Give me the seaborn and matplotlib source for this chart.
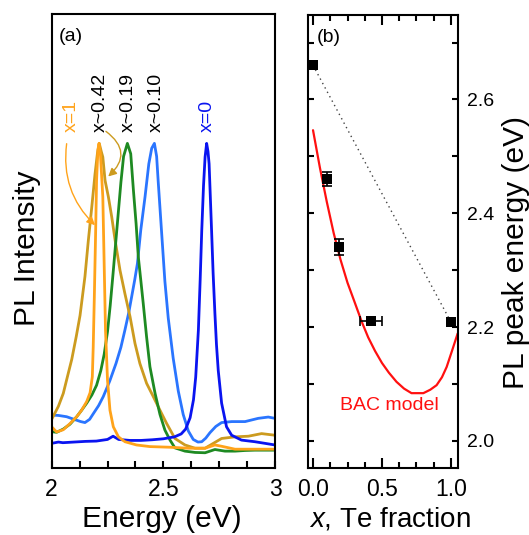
import numpy as np
import pandas as pd
import matplotlib
matplotlib.use("Agg")
import matplotlib.pyplot as plt
import seaborn as sns
from matplotlib.ticker import FixedLocator, FixedFormatter, MultipleLocator

# ---------------- (a) normalised PL spectra ----------------
energy_x0 = [2.000, 2.030, 2.050, 2.100, 2.150, 2.200, 2.250, 2.275, 2.300, 2.350,
             2.400, 2.450, 2.500, 2.550, 2.580, 2.600, 2.620, 2.635, 2.645, 2.657,
             2.665, 2.672, 2.680, 2.687, 2.694, 2.700, 2.705, 2.716, 2.723, 2.731,
             2.738, 2.746, 2.761, 2.783, 2.806, 2.850, 2.910, 2.955, 3.000]
pl_x0 = [0.076, 0.080, 0.078, 0.080, 0.082, 0.083, 0.088, 0.098, 0.088, 0.085,
         0.085, 0.087, 0.090, 0.096, 0.105, 0.120, 0.155, 0.210, 0.280, 0.425,
         0.580, 0.730, 0.870, 0.958, 1.000, 0.975, 0.937, 0.733, 0.600, 0.476,
         0.380, 0.300, 0.200, 0.127, 0.101, 0.086, 0.081, 0.076, 0.071]

energy_x010 = [2.000, 2.030, 2.067, 2.100, 2.130, 2.149, 2.170, 2.187, 2.210, 2.231,
               2.260, 2.288, 2.310, 2.328, 2.345, 2.358, 2.372, 2.384, 2.399, 2.418,
               2.435, 2.448, 2.460, 2.470, 2.477, 2.492, 2.507, 2.522, 2.544, 2.567,
               2.589, 2.612, 2.634, 2.655, 2.672, 2.690, 2.709, 2.735, 2.761, 2.806,
               2.866, 2.925, 2.970, 3.000]
pl_x010 = [0.163, 0.162, 0.158, 0.150, 0.143, 0.140, 0.150, 0.168, 0.192, 0.220,
           0.268, 0.322, 0.372, 0.425, 0.478, 0.527, 0.580, 0.630, 0.733, 0.835,
           0.937, 0.985, 1.000, 0.960, 0.883, 0.729, 0.575, 0.462, 0.339, 0.237,
           0.165, 0.114, 0.088, 0.080, 0.081, 0.092, 0.109, 0.128, 0.140, 0.143,
           0.143, 0.153, 0.157, 0.153]

energy_x019 = [2.000, 2.022, 2.052, 2.082, 2.112, 2.134, 2.157, 2.180, 2.201, 2.220,
               2.235, 2.250, 2.262, 2.275, 2.290, 2.300, 2.310, 2.322, 2.339, 2.354,
               2.366, 2.378, 2.388, 2.399, 2.410, 2.425, 2.440, 2.463, 2.485, 2.507,
               2.530, 2.552, 2.597, 2.642, 2.687, 2.731, 2.776, 2.821, 2.866, 2.910,
               2.955, 3.000]
pl_x019 = [0.112, 0.110, 0.120, 0.135, 0.158, 0.178, 0.200, 0.225, 0.255, 0.300,
           0.350, 0.420, 0.500, 0.600, 0.720, 0.800, 0.880, 0.960, 1.000, 0.968,
           0.856, 0.753, 0.650, 0.579, 0.507, 0.404, 0.312, 0.230, 0.165, 0.117,
           0.086, 0.062, 0.052, 0.048, 0.047, 0.057, 0.052, 0.052, 0.054, 0.055,
           0.055, 0.055]

energy_x042 = [2.000, 2.030, 2.052, 2.070, 2.090, 2.110, 2.127, 2.149, 2.164, 2.179,
               2.194, 2.205, 2.213, 2.222, 2.229, 2.239, 2.254, 2.269, 2.284, 2.306,
               2.328, 2.351, 2.373, 2.395, 2.425, 2.455, 2.485, 2.515, 2.552, 2.597,
               2.642, 2.687, 2.724, 2.761, 2.821, 2.881, 2.940, 3.000]
pl_x042 = [0.150, 0.190, 0.230, 0.280, 0.335, 0.405, 0.470, 0.590, 0.700, 0.800,
           0.905, 0.970, 1.000, 0.975, 0.958, 0.886, 0.835, 0.773, 0.702, 0.609,
           0.537, 0.466, 0.384, 0.322, 0.261, 0.220, 0.178, 0.137, 0.091, 0.071,
           0.061, 0.061, 0.076, 0.091, 0.096, 0.098, 0.106, 0.101]

energy_x1 = [2.000, 2.022, 2.052, 2.082, 2.112, 2.134, 2.157, 2.172, 2.182, 2.186,
             2.191, 2.197, 2.201, 2.207, 2.212, 2.218, 2.229, 2.235, 2.241, 2.250,
             2.261, 2.276, 2.299, 2.328, 2.380, 2.440, 2.530, 2.612, 2.687, 2.731,
             2.761, 2.821, 2.910, 3.000]
pl_x1 = [0.127, 0.111, 0.118, 0.137, 0.158, 0.178, 0.205, 0.232, 0.281, 0.373,
         0.527, 0.733, 0.886, 0.980, 1.000, 0.970, 0.835, 0.630, 0.425, 0.271,
         0.178, 0.127, 0.096, 0.081, 0.071, 0.066, 0.064, 0.061, 0.061, 0.071,
         0.067, 0.058, 0.058, 0.058]

sample_names = ["x~0.10", "x~0.42", "x~0.19", "x=0", "x=1"]
sample_colors = ["#2a75ff", "#cc9b1f", "#1e8a22", "#0a14f0", "#ffa31a"]
spectra = {
    "x~0.10": (energy_x010, pl_x010),
    "x~0.42": (energy_x042, pl_x042),
    "x~0.19": (energy_x019, pl_x019),
    "x=0": (energy_x0, pl_x0),
    "x=1": (energy_x1, pl_x1),
}

energy_ticks = [2.0, 2.5, 3.0]
energy_ticklabels = ["2", "2.5", "3"]

# ---------------- (b) peak energy vs Te fraction ----------------
te_fraction = [0.0, 0.10, 0.19, 0.42, 1.0]
peak_energy = [2.660, 2.460, 2.341, 2.211, 2.209]
te_fraction_err = [0.0, 0.020, 0.025, 0.077, 0.0]
peak_energy_err = [0.0, 0.012, 0.014, 0.0, 0.0]

bac_x = [0.0, 0.05, 0.10, 0.15, 0.20, 0.25, 0.30, 0.354, 0.40, 0.45, 0.50, 0.55,
         0.605, 0.66, 0.714, 0.80, 0.85, 0.896, 0.935, 0.969, 1.01, 1.049]
bac_energy = [2.546, 2.480, 2.420, 2.365, 2.318, 2.278, 2.245, 2.209, 2.182, 2.158,
              2.137, 2.120, 2.104, 2.092, 2.084, 2.084, 2.090, 2.098, 2.112, 2.130,
              2.160, 2.189]

frac_ticks = [0.0, 0.5, 1.0]
frac_ticklabels = ["0.0", "0.5", "1.0"]
peak_ticks = [2.0, 2.2, 2.4, 2.6]
peak_ticklabels = ["2.0", "2.2", "2.4", "2.6"]

# ---------------- style ----------------
sns.set_theme(style="ticks")
plt.rcParams["font.family"] = ["Liberation Sans", "DejaVu Sans"]
plt.rcParams["mathtext.fontset"] = "custom"
plt.rcParams["mathtext.it"] = "Liberation Sans:italic"
plt.rcParams["mathtext.rm"] = "Liberation Sans"
plt.rcParams["text.color"] = "black"
plt.rcParams["axes.labelcolor"] = "black"
plt.rcParams["xtick.color"] = "black"
plt.rcParams["ytick.color"] = "black"
plt.rcParams["axes.edgecolor"] = "black"

fig = plt.figure(figsize=(5.29, 5.35), dpi=100)
ax_a = fig.add_axes([0.0977, 0.1252, 0.4221, 0.8477])
ax_b = fig.add_axes([0.5813, 0.1247, 0.2839, 0.8479])

for ax in (ax_a, ax_b):
    for sp in ax.spines.values():
        sp.set_visible(True)
        sp.set_linewidth(1.5)
        sp.set_color("black")

# ---- panel (a) ----
rows = []
for name in sample_names:
    e, p = spectra[name]
    rows.append(pd.DataFrame({"energy": e, "intensity": p, "sample": name}))
df_spec = pd.concat(rows, ignore_index=True)

sns.lineplot(data=df_spec, x="energy", y="intensity", hue="sample",
             hue_order=sample_names, palette=sample_colors, sort=False,
             estimator=None, legend=False, linewidth=2.0, ax=ax_a)

ax_a.set_xlim(2.0, 3.0)
ax_a.set_ylim(0.0, 1.397)
ax_a.xaxis.set_major_locator(FixedLocator(energy_ticks))
ax_a.xaxis.set_major_formatter(FixedFormatter(energy_ticklabels))
ax_a.xaxis.set_minor_locator(MultipleLocator(0.125))
ax_a.tick_params(axis="x", which="both", direction="in", bottom=True, top=False,
                 length=5, width=1.5, labelsize=16.5, pad=7)
ax_a.set_yticks([])
ax_a.tick_params(axis="y", left=False, right=False)
ax_a.set_xlabel("Energy (eV)", fontsize=21.5)
ax_a.set_ylabel("PL Intensity", fontsize=21.5)
ax_a.xaxis.set_label_coords(0.495, -0.081)
ax_a.yaxis.set_label_coords(-0.05, 0.485)

label_pos = {"x=1": 2.090, "x~0.42": 2.216, "x~0.19": 2.343, "x~0.10": 2.470, "x=0": 2.697}
label_col = {"x=1": "#ffa31a", "x~0.42": "black", "x~0.19": "black", "x~0.10": "black",
             "x=0": "#0a14f0"}
for name, xpos in label_pos.items():
    ax_a.text(xpos, 1.035, name, rotation=90, ha="center", va="bottom",
              fontsize=14, color=label_col[name])

ax_a.annotate("", xy=(2.194, 0.748), xytext=(2.067, 0.999),
              arrowprops=dict(arrowstyle="-|>", color="#ffa31a", lw=1.0,
                              mutation_scale=12, shrinkA=0, shrinkB=0,
                              connectionstyle="arc3,rad=0.25"))
ax_a.annotate("", xy=(2.253, 0.898), xytext=(2.243, 1.037),
              arrowprops=dict(arrowstyle="-|>", color="#cc9b1f", lw=1.0,
                              mutation_scale=12, shrinkA=0, shrinkB=0,
                              connectionstyle="arc3,rad=-0.6"))
ax_a.text(0.033, 0.952, "(a)", transform=ax_a.transAxes, ha="left", va="center",
          fontsize=14)

# ---- panel (b) ----
sns.lineplot(x=bac_x, y=bac_energy, color="#ff1010", linewidth=1.6, sort=False,
             estimator=None, ax=ax_b)
sns.lineplot(x=[te_fraction[0], te_fraction[-1]], y=[peak_energy[0], peak_energy[-1]],
             color="#444444", linewidth=1.0, linestyle=(0, (1, 2.6)), sort=False,
             estimator=None, ax=ax_b)

err_idx = [i for i in range(len(te_fraction))
           if te_fraction_err[i] > 0 or peak_energy_err[i] > 0]
ax_b.errorbar([te_fraction[i] for i in err_idx], [peak_energy[i] for i in err_idx],
              xerr=[te_fraction_err[i] for i in err_idx],
              yerr=[peak_energy_err[i] for i in err_idx],
              fmt="none", ecolor="black", elinewidth=1.2, capsize=3.5, capthick=1.2)
sns.scatterplot(x=te_fraction, y=peak_energy, marker="s", s=45, color="black",
                edgecolor="black", linewidth=0, ax=ax_b, zorder=5)

ax_b.set_xlim(-0.04, 1.049)
ax_b.set_ylim(1.952, 2.749)
ax_b.xaxis.set_major_locator(FixedLocator(frac_ticks))
ax_b.xaxis.set_major_formatter(FixedFormatter(frac_ticklabels))
ax_b.xaxis.set_minor_locator(MultipleLocator(0.125))
ax_b.yaxis.set_major_locator(FixedLocator(peak_ticks))
ax_b.yaxis.set_major_formatter(FixedFormatter(peak_ticklabels))
ax_b.yaxis.set_minor_locator(MultipleLocator(0.1))
ax_b.tick_params(axis="x", which="major", direction="in", bottom=True, top=True,
                 length=7, width=1.5, labelsize=16.5, pad=7)
ax_b.tick_params(axis="x", which="minor", direction="in", bottom=True, top=True,
                 length=4.5, width=1.5)
ax_b.tick_params(axis="y", which="both", direction="in", left=True, right=True,
                 labelleft=False, labelright=True, length=4.5, width=1.5,
                 labelsize=14, pad=7)
ax_b.set_xlabel("$x$, Te fraction", fontsize=20)
ax_b.set_ylabel("PL peak energy (eV)", fontsize=21.5)
ax_b.yaxis.set_label_position("right")
ax_b.xaxis.set_label_coords(0.546, -0.081)
ax_b.yaxis.set_label_coords(1.295, 0.475)

ax_b.text(0.199, 2.063, "BAC model", color="#ff1010", fontsize=14, ha="left",
          va="center")
ax_b.text(0.061, 0.949, "(b)", transform=ax_b.transAxes, ha="left", va="center",
          fontsize=14)

fig.savefig("out.png", dpi=100)
